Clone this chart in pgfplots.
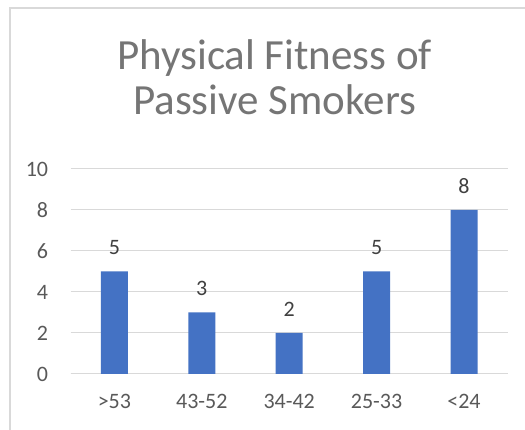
\documentclass[border=0pt]{standalone}
\usepackage{pgfplots}
\pgfplotsset{compat=1.18}
\usepackage{fontspec}
\setmainfont{Carlito}
\definecolor{barblue}{HTML}{4472C4}
\definecolor{gridgray}{HTML}{D9D9D9}
\definecolor{ticktext}{HTML}{595959}
\definecolor{titletext}{HTML}{757575}
\definecolor{labeltext}{HTML}{404040}
\begin{document}
\begin{tikzpicture}[x=1pt,y=1pt]
\useasboundingbox (0,0) rectangle (525,430);
\fill[white] (0,0) rectangle (525,430);
\draw[gridgray,line width=1.2pt] (10,0) -- (10,422) -- (525,422);
\node[titletext,anchor=base,inner sep=0pt,font=\fontsize{43}{46}\selectfont] at (274.7,360.7) {Physical Fitness of};
\node[titletext,anchor=base,inner sep=0pt,font=\fontsize{43}{46}\selectfont] at (274.7,315) {Passive Smokers};
\begin{axis}[
  at={(70.7pt,56pt)}, anchor=south west,
  scale only axis, width=437pt, height=205pt,
  xmin=-0.5, xmax=4.5, ymin=0, ymax=10,
  ytick={0,2,...,10},
  xtick={0,1,2,3,4},
  xticklabels={>53,43-52,34-42,25-33,<24},
  axis line style={draw=none},
  axis x line*=bottom,
  x axis line style={draw=gridgray,line width=1pt},
  major tick length=0pt,
  ymajorgrids, grid style={gridgray,line width=1pt},
  /pgf/number format/assume math mode=true,
  tick label style={font=\fontsize{22}{26}\selectfont, text=ticktext},
  yticklabel style={anchor=east, inner sep=0pt, xshift=-22.4pt},
  xticklabel style={anchor=base, inner sep=0pt, yshift=-35pt},
  ybar, bar width=27pt,
  nodes near coords,
  every node near coord/.append style={font=\fontsize{22}{26}\selectfont, text=labeltext, anchor=base, inner sep=0pt, yshift=16.5pt},
  clip=false,
]
\addplot[fill=barblue, draw=none] coordinates {(0,5) (1,3) (2,2) (3,5) (4,8)};
\end{axis}
\end{tikzpicture}
\end{document}
